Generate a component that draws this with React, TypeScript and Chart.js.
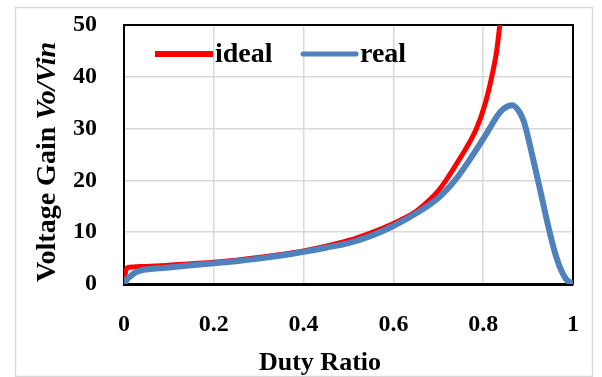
import React, { useEffect, useRef } from "react";
import { Chart, registerables } from "chart.js";

Chart.register(...registerables);

const dutyIdeal = [0, 0.005, 0.01, 0.02, 0.05, 0.1, 0.15, 0.2, 0.25, 0.3, 0.35, 0.4, 0.45, 0.5, 0.55, 0.6, 0.65, 0.68, 0.7, 0.717, 0.75, 0.785, 0.805, 0.819, 0.83, 0.837, 0.845];
const gainIdeal = [0.8, 2.8, 3.2, 3.3, 3.4, 3.6, 3.9, 4.2, 4.6, 5.1, 5.7, 6.4, 7.3, 8.4, 9.9, 11.7, 14.0, 16.2, 18.0, 20, 24.5, 30, 35, 40, 45, 50, 56];

const dutyReal = [0, 0.005, 0.013, 0.025, 0.036, 0.06, 0.1, 0.15, 0.2, 0.25, 0.3, 0.35, 0.4, 0.45, 0.5, 0.55, 0.6, 0.65, 0.7, 0.737, 0.77, 0.8, 0.814, 0.83, 0.845, 0.865, 0.88, 0.89, 0.9, 0.912, 0.926, 0.94, 0.95, 0.96, 0.971, 0.985, 1.0];
const gainReal = [0, 0.7, 1.4, 2.2, 2.6, 2.9, 3.2, 3.6, 4.0, 4.4, 4.9, 5.5, 6.2, 7.0, 7.9, 9.3, 11.2, 13.6, 16.6, 20, 24, 28, 30, 32.3, 33.8, 34.5, 33.3, 31.5, 28.3, 23.8, 18.5, 13.0, 9.3, 6.0, 3.2, 0.9, 0];

const xTicks = [0, 0.2, 0.4, 0.6, 0.8, 1];
const yTicks = [0, 10, 20, 30, 40, 50];

const seriesNames = ["ideal", "real"];
const yTitleMain = "Voltage Gain ";
const yTitleItalic = "Vo/Vin";
const xTitle = "Duty Ratio";

const FONT = '"Liberation Serif", "DejaVu Serif", serif';
const RED = "#FF0000";
const BLUE = "#4F81BD";

const decorPlugin = {
  id: "decor",
  beforeDatasetsDraw(chart: any) {
    const { ctx, chartArea } = chart;
    ctx.save();
    ctx.strokeStyle = "#000";
    ctx.lineWidth = 2;
    ctx.beginPath();
    ctx.moveTo(chartArea.left, chartArea.top);
    ctx.lineTo(chartArea.right, chartArea.top);
    ctx.lineTo(chartArea.right, chartArea.bottom);
    ctx.stroke();
    ctx.restore();
  },
  afterDraw(chart: any) {
    const { ctx } = chart;
    ctx.save();
    ctx.strokeStyle = "#D9D9D9";
    ctx.lineWidth = 1.5;
    ctx.strokeRect(15.5, 7.5, 577, 369);

    ctx.fillStyle = "#000";
    ctx.textBaseline = "alphabetic";
    ctx.translate(55, 162);
    ctx.rotate(-Math.PI / 2);
    ctx.font = `bold 28px ${FONT}`;
    const w1 = ctx.measureText(yTitleMain).width;
    ctx.font = `italic bold 28px ${FONT}`;
    const w2 = ctx.measureText(yTitleItalic).width;
    const start = -(w1 + w2) / 2;
    ctx.font = `bold 28px ${FONT}`;
    ctx.textAlign = "left";
    ctx.fillText(yTitleMain, start, 0);
    ctx.font = `italic bold 28px ${FONT}`;
    ctx.fillText(yTitleItalic, start + w1, 0);
    ctx.restore();

    ctx.save();
    ctx.fillStyle = "#000";
    ctx.font = `bold 26px ${FONT}`;
    ctx.textAlign = "center";
    ctx.textBaseline = "alphabetic";
    ctx.fillText(xTitle, 320, 370);

    ctx.lineWidth = 6;
    ctx.strokeStyle = RED;
    ctx.lineCap = "butt";
    ctx.beginPath();
    ctx.moveTo(155, 54);
    ctx.lineTo(213, 54);
    ctx.stroke();
    ctx.lineWidth = 5;
    ctx.strokeStyle = BLUE;
    ctx.lineCap = "round";
    ctx.beginPath();
    ctx.moveTo(303, 54);
    ctx.lineTo(356, 54);
    ctx.stroke();
    ctx.font = `bold 28px ${FONT}`;
    ctx.textAlign = "left";
    ctx.fillText(seriesNames[0], 215, 62);
    ctx.fillText(seriesNames[1], 360, 62);
    ctx.restore();
  },
};

export default function App() {
  const ref = useRef<HTMLCanvasElement>(null);
  useEffect(() => {
    if (!ref.current) return;
    const chart = new Chart(ref.current, {
      type: "line",
      data: {
        datasets: [
          {
            label: seriesNames[0],
            data: dutyIdeal.map((x, i) => ({ x, y: gainIdeal[i] })),
            borderColor: RED,
            borderWidth: 5,
            pointRadius: 0,
            cubicInterpolationMode: "monotone",
            order: 1,
          },
          {
            label: seriesNames[1],
            data: dutyReal.map((x, i) => ({ x, y: gainReal[i] })),
            borderColor: BLUE,
            borderWidth: 6,
            pointRadius: 0,
            cubicInterpolationMode: "monotone",
            borderCapStyle: "round",
            order: 0,
          },
        ],
      },
      options: {
        animation: false,
        responsive: false,
        layout: { padding: { left: 0, right: 29, top: 25, bottom: 0 } },
        plugins: { legend: { display: false }, tooltip: { enabled: false } },
        scales: {
          x: {
            type: "linear",
            min: 0,
            max: 1,
            afterBuildTicks: (s: any) => {
              s.ticks = xTicks.map((v) => ({ value: v }));
            },
            afterFit: (s: any) => {
              s.height = 93;
              s.paddingLeft = 0;
              s.paddingRight = 0;
              s.paddingTop = 0;
              s.paddingBottom = 0;
            },
            ticks: {
              color: "#000",
              padding: 26,
              maxRotation: 0,
              font: { family: FONT, size: 24, weight: "bold" },
              callback: (v: any) => String(Math.round(Number(v) * 10) / 10),
            },
            grid: { color: "#D9D9D9", lineWidth: 1.5, drawTicks: false },
            border: { color: "#000", width: 3 },
          },
          y: {
            type: "linear",
            min: 0,
            max: 50,
            afterBuildTicks: (s: any) => {
              s.ticks = yTicks.map((v) => ({ value: v }));
            },
            afterFit: (s: any) => {
              s.width = 124;
              s.paddingLeft = 0;
              s.paddingRight = 0;
              s.paddingTop = 0;
              s.paddingBottom = 0;
            },
            ticks: {
              color: "#000",
              padding: 27,
              font: { family: FONT, size: 24, weight: "bold" },
            },
            grid: { color: "#D9D9D9", lineWidth: 1.5, drawTicks: false },
            border: { color: "#000", width: 2 },
          },
        },
      },
      plugins: [decorPlugin],
    } as any);
    return () => chart.destroy();
  }, []);
  return (
    <div style={{ position: "absolute", left: 0, top: 0, width: 602, height: 377, background: "#fff" }}>
      <canvas ref={ref} width={602} height={377} style={{ display: "block" }} />
    </div>
  );
}
